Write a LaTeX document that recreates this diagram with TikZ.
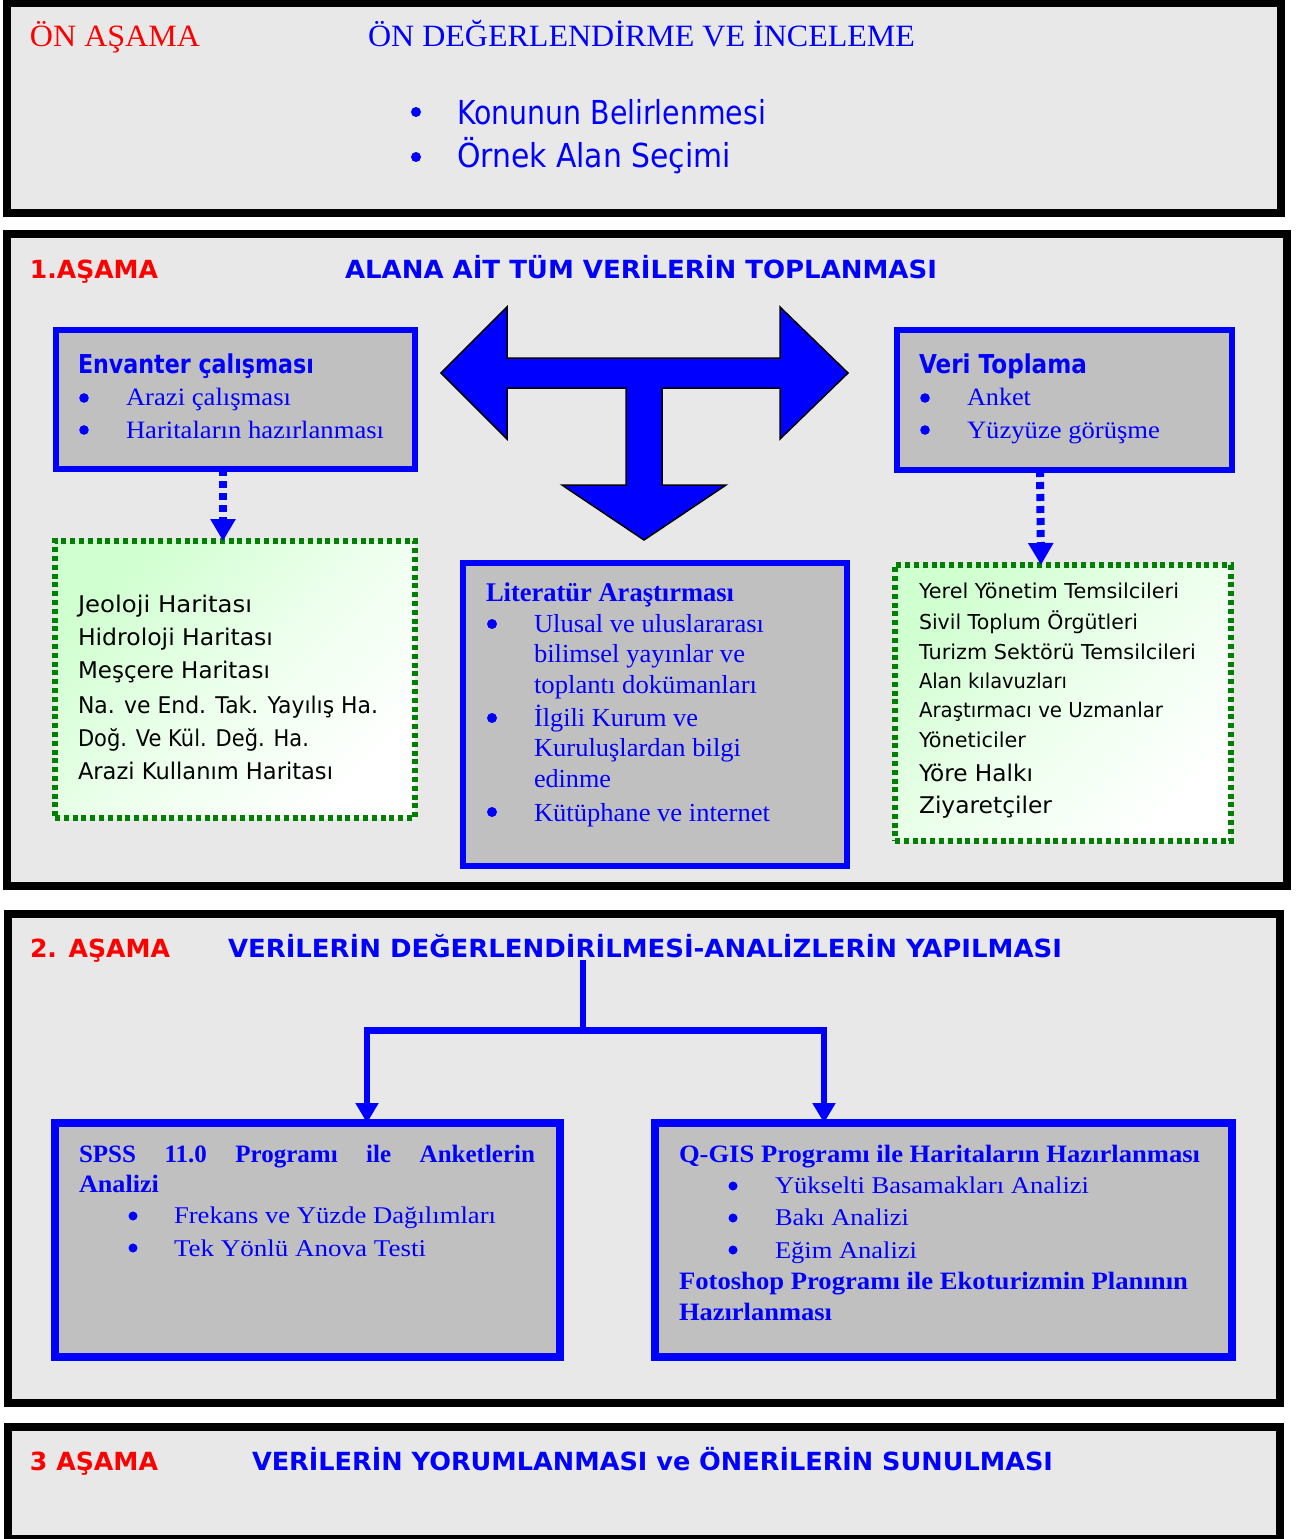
\documentclass[tikz,border=0pt]{standalone}
\usepackage{fontspec}
\usepackage{graphicx}
\setmainfont{Liberation Serif}
\newfontfamily\cfont{DejaVu Sans}
\usetikzlibrary{arrows.meta}
\newcommand\fw[2]{\resizebox{#1}{\height}{#2}}
\definecolor{pblue}{RGB}{0,0,255}
\definecolor{pred}{RGB}{255,0,0}
\definecolor{panelbg}{RGB}{232,232,232}
\definecolor{boxbg}{RGB}{192,192,192}
\definecolor{dgreen}{RGB}{0,128,0}
\definecolor{lgreen}{RGB}{208,255,208}
\tikzset{
 txt/.style={inner sep=0pt, outer sep=0pt, anchor=base west},
 panel/.style={draw=black, fill=panelbg, anchor=north west, inner sep=0pt, outer sep=0pt},
 bbox/.style={draw=pblue, fill=boxbg, line width=6pt, anchor=north west, inner sep=0pt, outer sep=0pt},
 gbox/.style={draw=dgreen, line width=5.5pt, dash pattern=on 5pt off 3.8pt, top color=lgreen, bottom color=white, middle color=lgreen!40!white, shading angle=45, anchor=north west, inner sep=0pt, outer sep=0pt},
 dotarrow/.style={draw=pblue, line width=8pt, dash pattern=on 7pt off 5pt, -{Triangle[length=22pt,width=24pt]}},
 arr2/.style={draw=pblue, line width=6pt, -{Triangle[length=20pt,width=22pt]}},
 hred/.style={txt, text=pred, font=\cfont\bfseries\fontsize{25}{25}\selectfont},
 hblue/.style={txt, text=pblue, font=\cfont\bfseries\fontsize{25}{25}\selectfont},
 cblack/.style={txt, text=black, font=\cfont\fontsize{23}{23}\selectfont},
 cblacks/.style={txt, text=black, font=\cfont\fontsize{20.5}{20.5}\selectfont},
 tblue/.style={txt, text=pblue, font=\fontsize{25}{25}\selectfont},
 tblueb/.style={txt, text=pblue, font=\bfseries\fontsize{25}{25}\selectfont},
 bul/.style={fill=pblue},
}
\begin{document}
\begin{tikzpicture}[x=1pt,y=-1pt]
\useasboundingbox (0,0) rectangle (1304,1539);
\fill[white] (0,0) rectangle (1304,1539);

% panels
\node[panel, line width=7.5pt, minimum width=1274pt, minimum height=209.5pt] (p0) at (7,3.5) {};
\node[panel, line width=8pt, minimum width=1280pt, minimum height=652pt] (p1) at (7,234) {};
\node[panel, line width=8pt, minimum width=1272pt, minimum height=489.5pt] (p2) at (8,913.5) {};
\node[panel, line width=8pt, minimum width=1272pt, minimum height=112pt] (p3) at (8,1427) {};

% panel 0
\node[txt, text=pred, font=\fontsize{31}{31}\selectfont] (p0a) at (30,46) {\fw{170pt}{ÖN AŞAMA}};
\node[txt, text=pblue, font=\fontsize{31}{31}\selectfont] (p0t) at (368,46) {\fw{547pt}{ÖN DEĞERLENDİRME VE İNCELEME}};
\fill[bul] (416,112) circle (5);
\fill[bul] (416,157) circle (5);
\node[txt, text=pblue, font=\cfont\fontsize{33}{33}\selectfont] (p0i1) at (457,124) {\fw{309pt}{Konunun Belirlenmesi}};
\node[txt, text=pblue, font=\cfont\fontsize{33}{33}\selectfont] (p0i2) at (457,167) {\fw{274pt}{Örnek Alan Seçimi}};

% panel 1
\node[hred] (p1a) at (30,278) {\fw{128pt}{1.AŞAMA}};
\node[hblue] (p1t) at (345,278) {\fw{592pt}{ALANA AİT TÜM VERİLERİN TOPLANMASI}};

\node[bbox, minimum width=359pt, minimum height=139pt] (env) at (56,330) {};
\node[bbox, minimum width=335pt, minimum height=140pt] (veri) at (897,330) {};
\node[bbox, minimum width=384pt, minimum height=303pt] (lit) at (463,563) {};
\node[gbox, minimum width=360pt, minimum height=277pt] (gl) at (55,541) {};
\node[gbox, minimum width=336pt, minimum height=276pt] (gr) at (895,565) {};

% big arrow
\draw[fill=pblue, draw=black, line width=1.5pt, line join=miter]
 (441,373) -- (507,307) -- (507,358) -- (780,358) -- (780,307) -- (848,373)
 -- (780,439) -- (780,388) -- (662,388) -- (662,485) -- (726,485) -- (644,540)
 -- (562,485) -- (626,485) -- (626,388) -- (507,388) -- (507,439) -- cycle;

% envanter
\node[txt, text=pblue, font=\cfont\bfseries\fontsize{26}{26}\selectfont] (envh) at (78,373) {\fw{236pt}{Envanter çalışması}};
\fill[bul] (84,398) circle (4.8);
\fill[bul] (84,430) circle (4.8);
\node[tblue] (env1) at (126,405) {\fw{165pt}{Arazi çalışması}};
\node[tblue] (env2) at (126,438) {\fw{258pt}{Haritaların hazırlanması}};

% veri
\node[txt, text=pblue, font=\cfont\bfseries\fontsize{26}{26}\selectfont] (verih) at (919,373) {\fw{168pt}{Veri Toplama}};
\fill[bul] (925,398) circle (4.8);
\fill[bul] (925,430) circle (4.8);
\node[tblue] (veri1) at (967,405) {\fw{64pt}{Anket}};
\node[tblue] (veri2) at (967,438) {\fw{193pt}{Yüzyüze görüşme}};

% dotted arrows
\draw[dotarrow] ([xshift=-12.5pt]env.south) -- ([xshift=-12pt]gl.north);
\draw[dotarrow] ([xshift=-24.5pt]veri.south) -- ([xshift=-22pt]gr.north);

% green left
\node[cblack] (gl1) at (78,612) {\fw{174pt}{Jeoloji Haritası}};
\node[cblack] (gl2) at (78,645) {\fw{195pt}{Hidroloji Haritası}};
\node[cblack] (gl3) at (78,678) {\fw{192pt}{Meşçere Haritası}};
\node[cblack] (gl4) at (78,713) {\fw{300pt}{Na. ve End. Tak. Yayılış Ha.}};
\node[cblack] (gl5) at (78,746) {\fw{231pt}{Doğ. Ve Kül. Değ. Ha.}};
\node[cblack] (gl6) at (78,779) {\fw{255pt}{Arazi Kullanım Haritası}};

% green right
\node[cblacks] (gr1) at (919,598) {\fw{260pt}{Yerel Yönetim Temsilcileri}};
\node[cblacks] (gr2) at (919,629) {\fw{219pt}{Sivil Toplum Örgütleri}};
\node[cblacks] (gr3) at (919,659) {\fw{277pt}{Turizm Sektörü Temsilcileri}};
\node[cblacks] (gr4) at (919,688) {\fw{148pt}{Alan kılavuzları}};
\node[cblacks] (gr5) at (919,717) {\fw{244pt}{Araştırmacı ve Uzmanlar}};
\node[cblacks] (gr6) at (919,747) {\fw{107pt}{Yöneticiler}};
\node[cblack] (gr7) at (919,781) {\fw{114pt}{Yöre Halkı}};
\node[cblack] (gr8) at (919,813) {\fw{133pt}{Ziyaretçiler}};

% literatur
\node[txt, text=pblue, font=\bfseries\fontsize{27}{27}\selectfont] (lith) at (486,601) {\fw{248pt}{Literatür Araştırması}};
\fill[bul] (492,624) circle (5);
\fill[bul] (492,718) circle (5);
\fill[bul] (492,812) circle (5);
\node[txt, text=pblue, font=\fontsize{26}{26}\selectfont] (lit1) at (534,632) {\fw{230pt}{Ulusal ve uluslararası}};
\node[txt, text=pblue, font=\fontsize{26}{26}\selectfont] (lit2) at (534,662) {\fw{211pt}{bilimsel yayınlar ve}};
\node[txt, text=pblue, font=\fontsize{26}{26}\selectfont] (lit3) at (534,693) {\fw{223pt}{toplantı dokümanları}};
\node[txt, text=pblue, font=\fontsize{26}{26}\selectfont] (lit4) at (534,726) {\fw{164pt}{İlgili Kurum ve}};
\node[txt, text=pblue, font=\fontsize{26}{26}\selectfont] (lit5) at (534,756) {\fw{207pt}{Kuruluşlardan bilgi}};
\node[txt, text=pblue, font=\fontsize{26}{26}\selectfont] (lit6) at (534,787) {\fw{77pt}{edinme}};
\node[txt, text=pblue, font=\fontsize{26}{26}\selectfont] (lit7) at (534,821) {\fw{236pt}{Kütüphane ve internet}};

% panel 2
\node[hred] (p2a) at (30,957) {\fw{140pt}{2. AŞAMA}};
\node[hblue] (p2t) at (228,957) {\fw{834pt}{VERİLERİN DEĞERLENDİRİLMESİ-ANALİZLERİN YAPILMASI}};

\node[bbox, line width=8pt, minimum width=505pt, minimum height=234pt] (spss) at (55,1123) {};
\node[bbox, line width=8pt, minimum width=577pt, minimum height=234pt] (qgis) at (655,1123) {};

\coordinate (t2) at (583,960);
\coordinate (bar) at (583,1030);
\coordinate (barL) at (367,1030);
\coordinate (barR) at (824,1030);
\draw[draw=pblue, line width=6pt] (t2) -- (bar);
\draw[draw=pblue, line width=7pt] ([xshift=-3pt]barL) -- ([xshift=3pt]barR);
\draw[arr2] (barL) -- (barL |- spss.north);
\draw[arr2] (barR) -- (barR |- qgis.north);

% spss
\node[tblueb] (sp1) at (79,1162) {\makebox[456pt][s]{SPSS\hfill 11.0\hfill Programı\hfill ile\hfill Anketlerin}};
\node[tblueb] (sp2) at (79,1192) {\fw{80pt}{Analizi}};
\fill[bul] (133,1216) circle (4.5);
\fill[bul] (133,1248) circle (4.5);
\node[txt, text=pblue, font=\fontsize{24}{24}\selectfont] (sp3) at (174,1223) {\fw{322pt}{Frekans ve Yüzde Dağılımları}};
\node[txt, text=pblue, font=\fontsize{24}{24}\selectfont] (sp4) at (174,1256) {\fw{252pt}{Tek Yönlü Anova Testi}};

% qgis
\node[tblueb] (qg1) at (679,1162) {\fw{521pt}{Q-GIS Programı ile Haritaların Hazırlanması}};
\fill[bul] (733,1186) circle (4.5);
\fill[bul] (733,1218) circle (4.5);
\fill[bul] (733,1250) circle (4.5);
\node[txt, text=pblue, font=\fontsize{24}{24}\selectfont] (qg2) at (775,1193) {\fw{314pt}{Yükselti Basamakları Analizi}};
\node[txt, text=pblue, font=\fontsize{24}{24}\selectfont] (qg3) at (775,1225) {\fw{134pt}{Bakı Analizi}};
\node[txt, text=pblue, font=\fontsize{24}{24}\selectfont] (qg4) at (775,1258) {\fw{142pt}{Eğim Analizi}};
\node[tblueb] (qg5) at (679,1289) {\fw{509pt}{Fotoshop Programı ile Ekoturizmin Planının}};
\node[tblueb] (qg6) at (679,1320) {\fw{153pt}{Hazırlanması}};

% panel 3
\node[hred] (p3a) at (30,1470) {\fw{128pt}{3 AŞAMA}};
\node[hblue] (p3t) at (252,1470) {\fw{801pt}{VERİLERİN YORUMLANMASI ve ÖNERİLERİN SUNULMASI}};
\end{tikzpicture}
\end{document}
